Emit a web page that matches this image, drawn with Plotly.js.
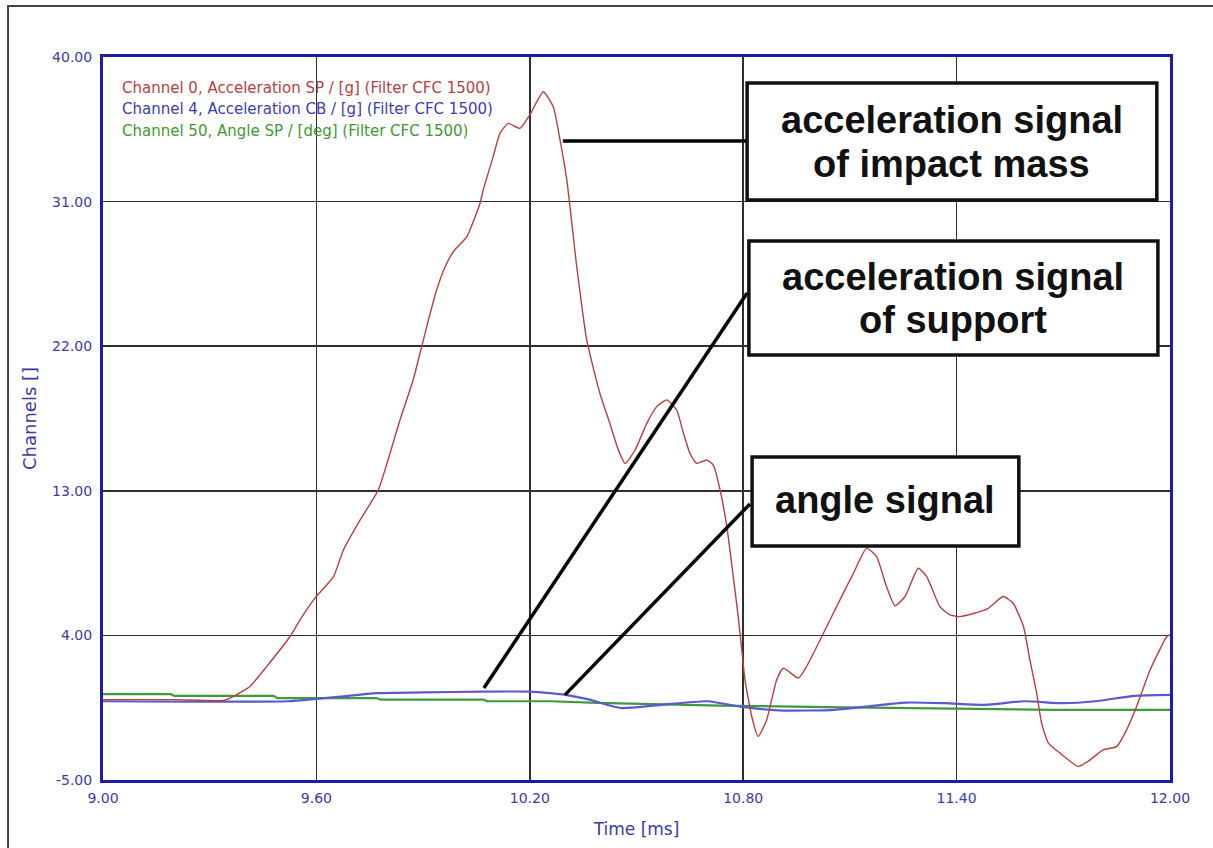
<!DOCTYPE html>
<html>
<head>
<meta charset="utf-8">
<script src="https://cdn.plot.ly/plotly-3.0.1.min.js"></script>
<style>html,body{margin:0;padding:0;background:#fff;}#chart{width:1213px;height:848px;}</style>
</head>
<body>
<div id="chart"></div>
<script>
// ---- data ----
const timeCh0 = [9.00, 9.20, 9.338, 9.366, 9.413, 9.46, 9.526, 9.554, 9.596, 9.648, 9.676, 9.723, 9.774, 9.807, 9.835, 9.872, 9.896, 9.915, 9.938, 9.962, 9.985, 10.023, 10.06, 10.069, 10.097, 10.116, 10.14, 10.172, 10.20, 10.238, 10.266, 10.285, 10.304, 10.332, 10.36, 10.397, 10.425, 10.449, 10.468, 10.496, 10.529, 10.557, 10.585, 10.613, 10.632, 10.65, 10.669, 10.697, 10.716, 10.735, 10.754, 10.772, 10.786, 10.796, 10.805, 10.824, 10.842, 10.866, 10.894, 10.913, 10.955, 10.978, 11.021, 11.072, 11.11, 11.147, 11.175, 11.203, 11.227, 11.255, 11.292, 11.316, 11.353, 11.381, 11.41, 11.485, 11.531, 11.559, 11.588, 11.606, 11.625, 11.639, 11.658, 11.691, 11.742, 11.775, 11.812, 11.85, 11.878, 11.906, 11.944, 11.991, 12.0];
const accelSP  = [0.0, 0.0, -0.05, 0.19, 0.82, 2.06, 3.93, 4.97, 6.32, 7.66, 9.32, 11.19, 13.05, 15.34, 17.41, 19.9, 21.97, 23.63, 25.5, 26.95, 27.88, 28.82, 30.9, 31.72, 33.8, 35.25, 35.87, 35.56, 36.4, 37.84, 36.9, 34.84, 32.35, 26.95, 22.39, 19.07, 17.2, 15.54, 14.7, 15.54, 17.2, 18.24, 18.66, 18.03, 16.58, 15.34, 14.71, 14.92, 14.6, 13.05, 10.77, 7.66, 5.17, 3.1, 1.23, -1.05, -2.29, -1.26, 1.23, 1.96, 1.34, 2.06, 3.93, 6.21, 7.87, 9.43, 8.9, 7.04, 5.84, 6.42, 8.18, 7.66, 5.79, 5.28, 5.17, 5.63, 6.42, 6.0, 4.55, 2.48, 0.41, -1.46, -2.7, -3.33, -4.16, -3.75, -3.12, -2.92, -1.88, -0.43, 1.85, 3.93, 4.05];

const timeCh4 = [9.00, 9.52, 9.60, 9.66, 9.77, 9.90, 10.07, 10.20, 10.257, 10.30, 10.368, 10.456, 10.568, 10.70, 10.79, 10.90, 11.057, 11.146, 11.257, 11.368, 11.48, 11.59, 11.70, 11.79, 11.90, 12.0];
const accelCB  = [-0.1, -0.1, 0.05, 0.17, 0.41, 0.45, 0.5, 0.5, 0.41, 0.3, 0.0, -0.52, -0.32, -0.1, -0.43, -0.67, -0.63, -0.43, -0.18, -0.22, -0.32, -0.1, -0.22, -0.1, 0.24, 0.3];

const timeCh50 = [9.00, 9.19, 9.20, 9.48, 9.49, 9.77, 9.78, 10.07, 10.08, 10.257, 10.39, 10.735, 11.035, 11.37, 11.67, 12.0];
const angleSP  = [0.35, 0.35, 0.24, 0.24, 0.1, 0.1, 0.0, 0.0, -0.1, -0.1, -0.2, -0.37, -0.46, -0.53, -0.63, -0.63];

const xTicks = [9.0, 9.6, 10.2, 10.8, 11.4, 12.0];
const xTickText = ["9.00", "9.60", "10.20", "10.80", "11.40", "12.00"];
const yTicks = [-5, 4, 13, 22, 31, 40];
const yTickText = ["-5.00", "4.00", "13.00", "22.00", "31.00", "40.00"];

const legendNames = [
  "Channel 0, Acceleration SP / [g] (Filter CFC 1500)",
  "Channel 4, Acceleration CB / [g] (Filter CFC 1500)",
  "Channel 50, Angle SP / [deg] (Filter CFC 1500)"
];
const calloutTexts = [
  "acceleration signal<br>of impact mass",
  "acceleration signal<br>of support",
  "angle signal"
];

// ---- styles ----
const RED = '#b8403f', BLUE = '#5a5ad0', GREEN = '#3f9a3f';
const AXBLUE = '#3a3aa8';
const FONT = 'DejaVu Sans, Arial, sans-serif';

const traces = [
  {x: timeCh50, y: angleSP, mode: 'lines', line: {color: GREEN, width: 2.2}, name: legendNames[2]},
  {x: timeCh4, y: accelCB, mode: 'lines', line: {color: BLUE, width: 2.2, shape: 'spline', smoothing: 0.6}, name: legendNames[1]},
  {x: timeCh0, y: accelSP, mode: 'lines', line: {color: RED, width: 1.4, shape: 'spline', smoothing: 0.5}, name: legendNames[0]}
];

const tickFont = {family: FONT, size: 14, color: AXBLUE};

const shapes = [
  // outer frame
  {type: 'rect', xref: 'paper', yref: 'paper', x0: -0.089, x1: 1.2, y0: -0.3, y1: 1.0705,
   line: {color: '#444', width: 2}, layer: 'below'},
  // leader lines
  {type: 'line', xref: 'x', yref: 'y', x0: 10.293, y0: 34.77, x1: 10.811, y1: 34.77, line: {color: '#000', width: 3.5}, layer: 'above'},
  {type: 'line', xref: 'x', yref: 'y', x0: 10.071, y0: 0.73, x1: 10.811, y1: 25.31, line: {color: '#000', width: 3.5}, layer: 'above'},
  {type: 'line', xref: 'x', yref: 'y', x0: 10.299, y0: 0.30, x1: 10.819, y1: 12.18, line: {color: '#000', width: 3.5}, layer: 'above'},
  // callout boxes
  {type: 'rect', xref: 'x', yref: 'y', x0: 10.811, x1: 11.963, y0: 31.10, y1: 38.38, fillcolor: '#fff', line: {color: '#111', width: 3.5}, layer: 'above'},
  {type: 'rect', xref: 'x', yref: 'y', x0: 10.816, x1: 11.966, y0: 21.46, y1: 28.55, fillcolor: '#fff', line: {color: '#111', width: 3.5}, layer: 'above'},
  {type: 'rect', xref: 'x', yref: 'y', x0: 10.825, x1: 11.575, y0: 9.57, y1: 15.11, fillcolor: '#fff', line: {color: '#111', width: 3.5}, layer: 'above'}
];

const calloutFont = {family: 'Liberation Sans, Arial, sans-serif', size: 38, color: '#111', weight: 'bold'};
// centre x of each box, and the centre y of each text line (data units)
const calloutX = [11.387, 11.391, 11.200];
const calloutLineY = [[36.08, 33.35], [26.31, 23.60], [12.43]];
const legendColors = [RED, '#3d3db8', '#3f9a30'];
const annotations = [];
calloutTexts.forEach((t, i) => {
  t.split('<br>').forEach((line, j) => {
    annotations.push({xref: 'x', yref: 'y', x: calloutX[i], y: calloutLineY[i][j], yanchor: 'middle',
      text: line, showarrow: false, font: calloutFont});
  });
});
legendNames.forEach((t, i) => {
  annotations.push({xref: 'paper', yref: 'paper', x: 0.016, y: 0.957 - i * 0.0295, xanchor: 'left', yanchor: 'middle',
    text: t, showarrow: false, font: {family: FONT, size: 15, color: legendColors[i]}});
});

const layout = {
  width: 1213, height: 848,
  margin: {l: 103, r: 43, t: 57, b: 68},
  paper_bgcolor: '#fff', plot_bgcolor: '#fff',
  showlegend: false,
  xaxis: {
    range: [9, 12], tickmode: 'array', tickvals: xTicks, ticktext: xTickText,
    showgrid: true, gridcolor: '#303030', gridwidth: 1.6, zeroline: false,
    showline: true, mirror: true, linecolor: '#1c1ca8', linewidth: 3,
    ticks: '', tickfont: tickFont, ticklabelstandoff: 3,
    title: {text: 'Time [ms]', font: {family: FONT, size: 17, color: AXBLUE}, standoff: 19}
  },
  yaxis: {
    range: [-5, 40], tickmode: 'array', tickvals: yTicks, ticktext: yTickText,
    showgrid: true, gridcolor: '#303030', gridwidth: 1.6, zeroline: false,
    showline: true, mirror: true, linecolor: '#1c1ca8', linewidth: 3,
    ticks: '', tickfont: tickFont, ticklabelstandoff: 5,
    title: {text: 'Channels []', font: {family: FONT, size: 18, color: AXBLUE}, standoff: 11}
  },
  shapes: shapes,
  annotations: annotations
};

Plotly.newPlot('chart', traces, layout, {displayModeBar: false, staticPlot: true});
</script>
</body>
</html>
